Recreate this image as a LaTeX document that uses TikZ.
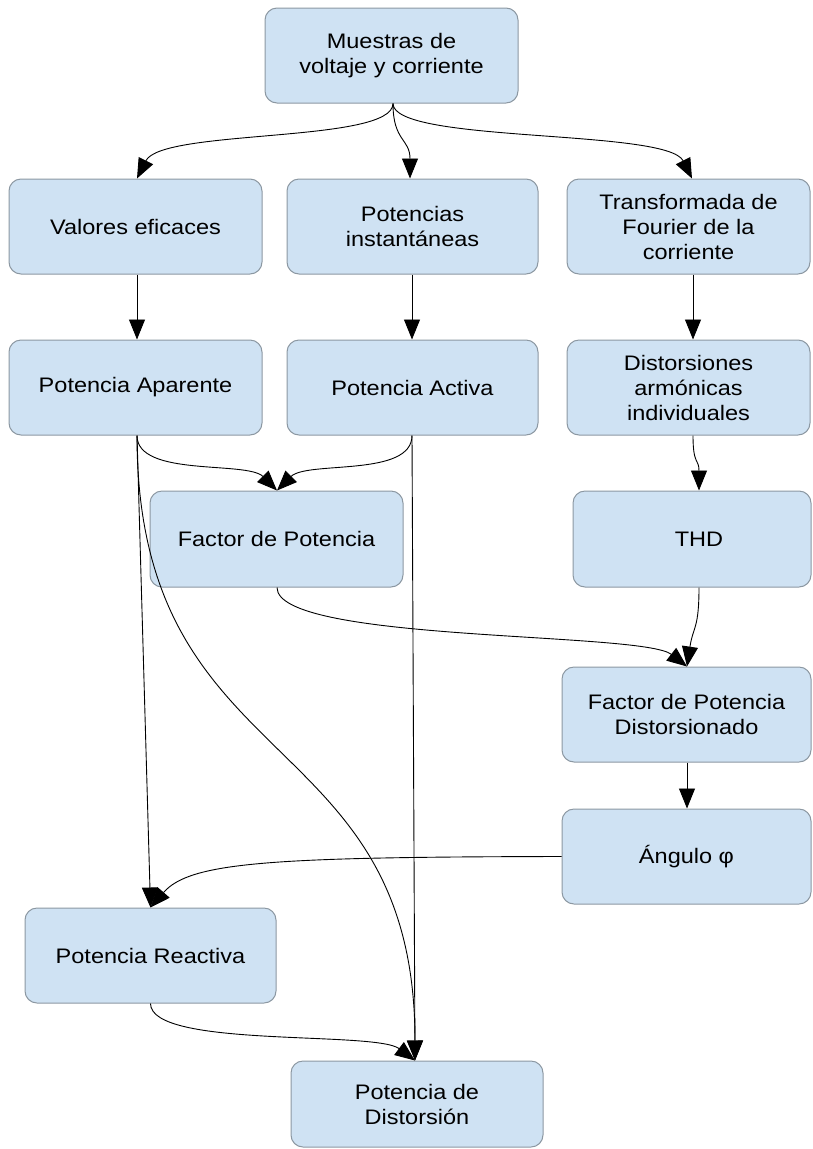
\documentclass[tikz,border=0pt]{standalone}
\usepackage{fontspec}
\setmainfont{Liberation Sans}[FakeStretch=1.12]
\usetikzlibrary{arrows.meta}
\definecolor{boxfill}{RGB}{207,226,243}
\definecolor{boxline}{RGB}{140,152,162}
\begin{document}
\begin{tikzpicture}[x=1pt,y=-1pt,
  box/.style={draw=boxline, fill=boxfill, rounded corners=12pt, line width=1pt,
    inner sep=0pt, align=center, minimum height=95pt,
    font=\fontsize{21}{25}\selectfont},
  conn/.style={draw=black, line width=0.9pt, -{Triangle[length=20pt,width=16pt]}}]
\useasboundingbox (0,0) rectangle (812,1149);
\clip (0,0) rectangle (812,1149);
\node[box, minimum width=253pt] (m) at (391.5,55.5) {Muestras de\\voltaje y corriente};
\node[box, minimum width=253pt] (ve) at (135.5,226.5) {Valores eficaces};
\node[box, minimum width=251pt] (pi) at (412.5,226.5) {Potencias\\instantáneas};
\node[box, minimum width=243pt] (tf) at (688.5,226.5) {Transformada de\\Fourier de la\\corriente};
\node[box, minimum width=253pt] (pa) at (135.5,387.5) {Potencia Aparente};
\node[box, minimum width=251pt] (pac) at (412.5,387.5) {Potencia Activa};
\node[box, minimum width=243pt] (da) at (688.5,387.5) {Distorsiones\\armónicas\\individuales};
\node[box, minimum width=253pt, minimum height=96pt] (fp) at (276.5,539) {Factor de Potencia};
\node[box, minimum width=238pt, minimum height=96pt] (thd) at (692,539) {\hspace*{14pt}THD};
\node[box, minimum width=249pt] (fpd) at (686.5,714.5) {Factor de Potencia\\Distorsionado};
\node[box, minimum width=249pt] (ang) at (686.5,856.5) {Ángulo φ};
\node[box, minimum width=251pt] (re) at (150.5,955.5) {Potencia Reactiva};
\node[box, minimum width=252pt, minimum height=86pt] (pd) at (417,1104) {Potencia de\\Distorsión};

\coordinate (ms) at ([xshift=1.5pt]m.south);
\coordinate (vn) at ([xshift=1.5pt]ve.north);
\coordinate (pin) at ([xshift=-2.5pt]pi.north);
\coordinate (tfn) at ([xshift=3.5pt]tf.north);
\draw[conn] (ms) .. controls ([yshift=-40pt]ms) and ([xshift=25pt,yshift=50pt]vn) .. (vn);
\draw[conn] (ms) .. controls ([yshift=-38pt]ms) and ([yshift=40pt]pin) .. (pin);
\draw[conn] (ms) .. controls ([yshift=-40pt]ms) and ([xshift=-25pt,yshift=50pt]tfn) .. (tfn);

\draw[conn] ([xshift=1.5pt]ve.south) -- ([xshift=1.5pt]pa.north);
\draw[conn] ([xshift=-0.5pt]pi.south) -- ([xshift=-0.5pt]pac.north);
\draw[conn] ([xshift=4.5pt]tf.south) -- ([xshift=4.5pt]da.north);

\coordinate (pas) at ([xshift=1.5pt]pa.south);
\coordinate (pacs) at ([xshift=-0.5pt]pac.south);
\coordinate (fpn) at ([xshift=0.5pt]fp.north);
\draw[conn] (pas) .. controls ([yshift=-42pt]pas) and ([xshift=-30pt,yshift=30pt]fpn) .. (fpn);
\draw[conn] (pacs) .. controls ([yshift=-42pt]pacs) and ([xshift=30pt,yshift=30pt]fpn) .. (fpn);

\coordinate (das) at ([xshift=4.5pt]da.south);
\coordinate (thdn) at ([xshift=7pt]thd.north);
\draw[conn] (das) .. controls ([yshift=-30pt]das) and ([yshift=32pt]thdn) .. (thdn);

\coordinate (ren) at ([xshift=0pt]re.north);
\coordinate (pdn) at ([xshift=-2pt]pd.north);
\draw[conn] (pas) -- (ren);
\draw[conn] (pas) .. controls ([yshift=-345pt]pas) and ([yshift=340pt]pdn) .. (pdn);
\draw[conn] (pacs) -- (pdn);

\coordinate (fps) at ([xshift=0.5pt]fp.south);
\coordinate (fpdn) at ([xshift=0.5pt]fpd.north);
\coordinate (thds) at ([xshift=7pt]thd.south);
\draw[conn] (fps) .. controls ([yshift=-55pt]fps) and ([xshift=-45pt,yshift=35pt]fpdn) .. (fpdn);
\draw[conn] (thds) .. controls ([yshift=-42pt]thds) and ([xshift=6pt,yshift=40pt]fpdn) .. (fpdn);

\draw[conn] ([xshift=0.5pt]fpd.south) -- ([xshift=0.5pt]ang.north);
\draw[conn] (ang.west) .. controls (270,857) and (190,862) .. (ren);
\draw[conn] (re.south) .. controls ([yshift=-45pt]re.south) and ([xshift=-40pt,yshift=30pt]pdn) .. (pdn);
\end{tikzpicture}
\end{document}
